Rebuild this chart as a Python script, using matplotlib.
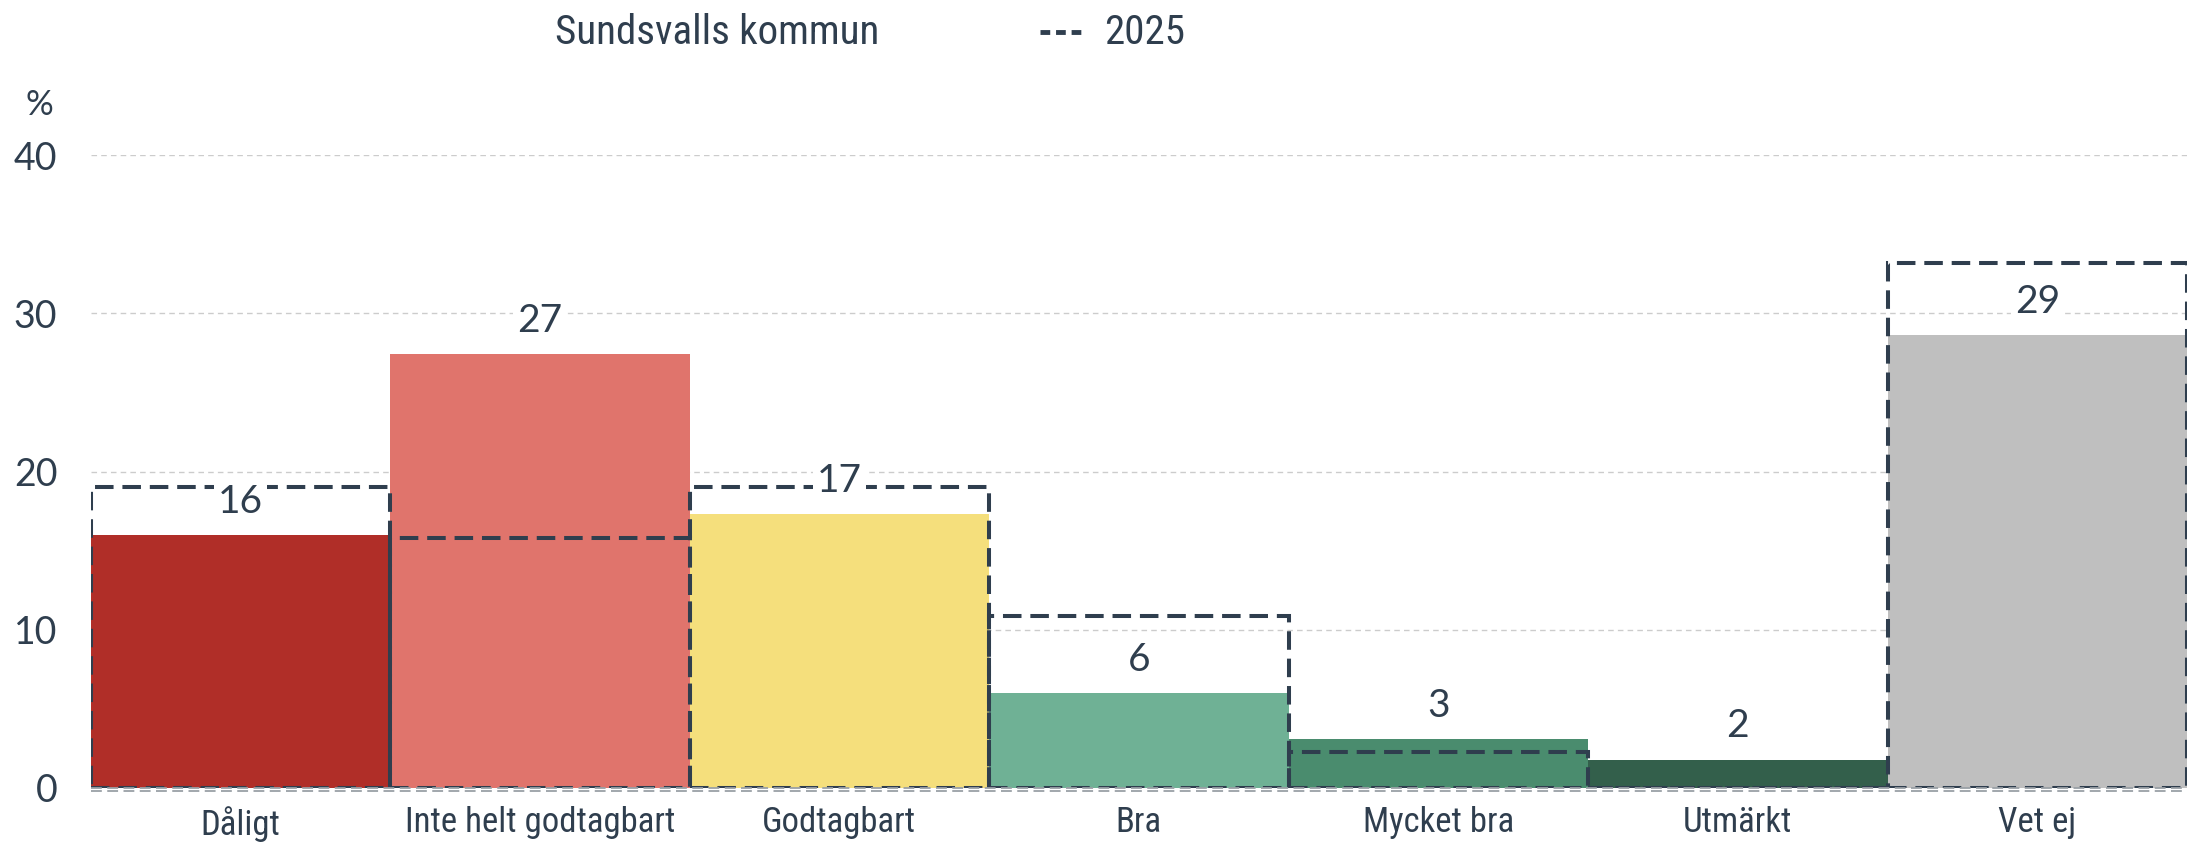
import matplotlib
matplotlib.use("Agg")
import matplotlib.pyplot as plt
from matplotlib.lines import Line2D

categories = ["Dåligt", "Inte helt godtagbart", "Godtagbart", "Bra", "Mycket bra", "Utmärkt", "Vet ej"]
values_current = [16.0, 27.4, 17.3, 6.0, 3.1, 1.8, 28.6]
labels_current = ["16", "27", "17", "6", "3", "2", "29"]
values_2025 = [19.0, 15.8, 19.0, 10.9, 2.3, 0.0, 33.2]
colors = ["#b02e28", "#e0746c", "#f5df7c", "#6fb195", "#4a8c6e", "#335f4b", "#bfbfbf"]
yticks = [0, 10, 20, 30, 40]

TEXT = "#2f3e4e"
NUMFONT = "Lato"
NARROW = "Roboto Condensed"
W, H = 2187, 844
fig = plt.figure(figsize=(W / 100, H / 100), dpi=100)
left = 90.7 / W
bottom = 1 - 788 / H
top = 1 - 155 / H
ax = fig.add_axes([left, bottom, 1 - left, top - bottom])

x = list(range(len(categories)))
ax.bar(x, values_current, width=1.0, color=colors, zorder=2)
ax.bar(x, values_2025, width=1.0, fill=False, edgecolor=TEXT, linewidth=2.9,
       linestyle=(0, (4.6, 2.2)), zorder=3)

for xi, v, lab in zip(x, values_current, labels_current):
    ax.text(xi, v + 2.1, lab, ha="center", va="center", fontsize=28,
            family=NUMFONT, color=TEXT, zorder=4,
            bbox=dict(boxstyle="square,pad=0.1", fc="white", ec="none"))

ax.set_xlim(-0.5, len(categories) - 0.5)
ax.set_ylim(0, 40)
ax.set_yticks(yticks)
ax.set_yticklabels([str(t) for t in yticks], fontsize=27, family=NUMFONT, color=TEXT)
ax.set_xticks(x)
ax.set_xticklabels(categories, fontsize=25, family=NARROW, color=TEXT)
ax.tick_params(axis="y", length=0, pad=24)
ax.tick_params(axis="x", length=0, pad=13)
for s in ax.spines.values():
    s.set_visible(False)
ax.grid(axis="y", color="#cccccc", linestyle=(0, (4, 3)), linewidth=1.0, zorder=0)
ax.set_axisbelow(True)
for yy in (0, -0.2):
    ax.axhline(yy, color="#9aa0a6", linestyle=(0, (6, 3)), linewidth=1.3, zorder=5, clip_on=False)

fig.text(53 / W, 1 - 105 / H, "%", ha="right", va="center", fontsize=25, family=NUMFONT, color=TEXT)

fig.text(555 / W, 1 - 32 / H, "Sundsvalls kommun", ha="left", va="center", fontsize=29.5,
         family=NARROW, color=TEXT)
fig.add_artist(Line2D([1040 / W, 1085 / W], [1 - 32 / H, 1 - 32 / H], color=TEXT,
                      linewidth=3.5, linestyle=(0, (2.0, 1.2))))
fig.text(1104 / W, 1 - 32 / H, "2025", ha="left", va="center", fontsize=29.5,
         family=NARROW, color=TEXT)

fig.savefig("out.png", dpi=100, facecolor="white")
